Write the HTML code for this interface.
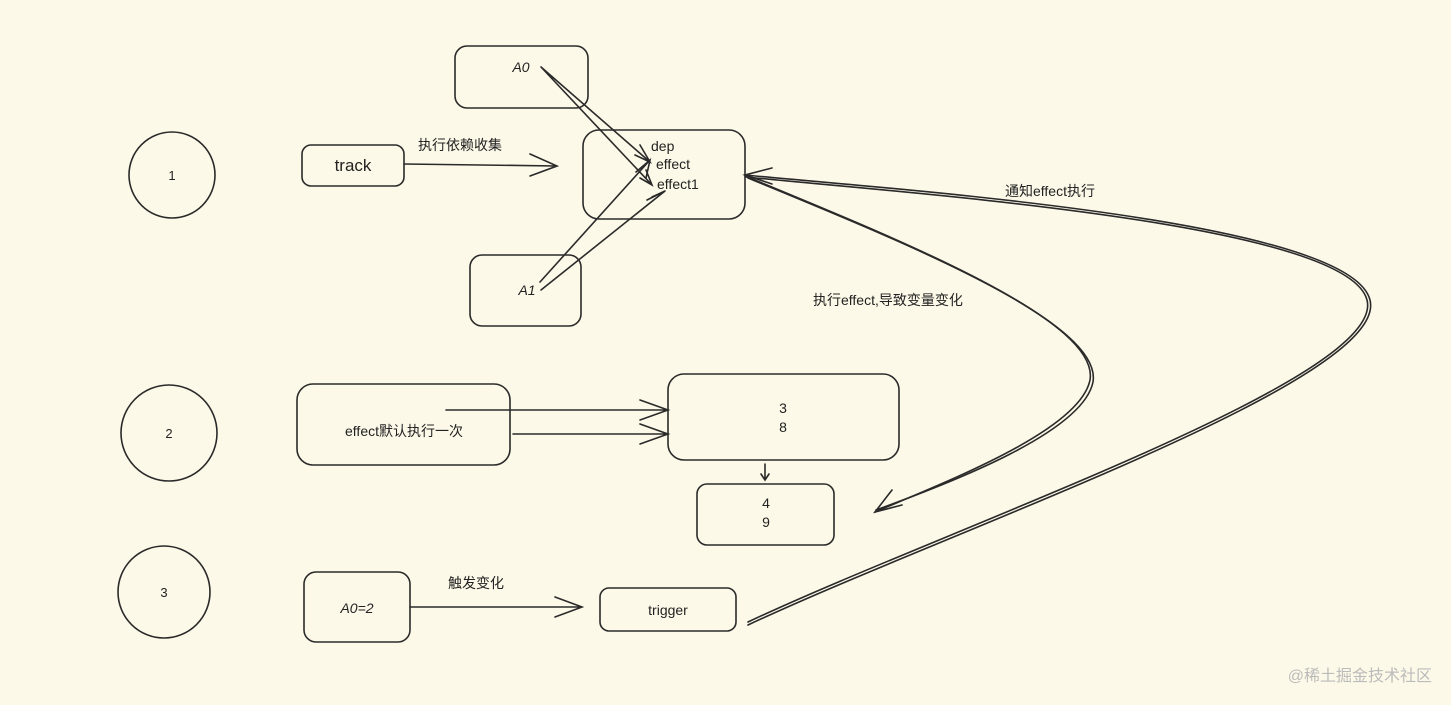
<!DOCTYPE html>
<html><head><meta charset="utf-8"><style>
html,body{margin:0;padding:0;background:#fdf9e8;}
svg{display:block}
text{font-family:"Liberation Sans","Noto Sans CJK SC",sans-serif;fill:#222;}
</style></head><body>
<svg width="1451" height="705" viewBox="0 0 1451 705" xmlns="http://www.w3.org/2000/svg">
<rect width="1451" height="705" fill="#fdf9e8"/>
<g fill="none" stroke="#2a2a2a" stroke-width="1.6" stroke-linecap="round">
<!-- circles -->
<circle cx="172" cy="175" r="43"/>
<circle cx="169" cy="433" r="48"/>
<circle cx="164" cy="592" r="46"/>
<!-- boxes -->
<rect x="455" y="46" width="133" height="62" rx="12"/>
<rect x="302" y="145" width="102" height="41" rx="9"/>
<rect x="583" y="130" width="162" height="89" rx="16"/>
<rect x="470" y="255" width="111" height="71" rx="12"/>
<rect x="297" y="384" width="213" height="81" rx="16"/>
<rect x="668" y="374" width="231" height="86" rx="16"/>
<rect x="697" y="484" width="137" height="61" rx="10"/>
<rect x="304" y="572" width="106" height="70" rx="12"/>
<rect x="600" y="588" width="136" height="43" rx="9"/>
<!-- track arrow -->
<path d="M404 164 L557 166 M530 154 L557 166 L530 176"/>
<!-- A0 arrows -->
<path d="M541 67 L650 162 M541 67 L652 185 M635 155 L650 162 L640 145 M640 178 L652 185 L646 170"/>
<!-- A1 arrows -->
<path d="M540 282 L650 160 M541 290 L665 191 M636 172 L650 160 L646 178 M647 200 L665 191 L652 197"/>
<!-- effect -> 3,8 -->
<path d="M446 410 L668 410 M640 400 L668 410 L640 420"/>
<path d="M513 434 L668 434 M640 424 L668 434 L640 444"/>
<!-- 3,8 -> 4,9 -->
<path d="M765 464 L765 480 M761 474 L765 480 L769 474"/>
<!-- A0=2 -> trigger -->
<path d="M410 607 L582 607 M555 597 L582 607 L555 617"/>
<!-- effect -> 4,9 curve -->
<path d="M745 176 C 900 240, 1100 320, 1090 380 C 1080 430, 950 480, 875 512"/>
<path d="M748 178 C 903 242, 1103 322, 1093 382 C 1083 432, 953 482, 876 510"/>
<path d="M892 490 L875 512 L902 505"/>
<!-- trigger -> effect curve -->
<path d="M748 625 C 950 530, 1390 380, 1370 300 C 1350 220, 900 190, 745 175"/>
<path d="M748 622 C 950 527, 1387 378, 1367 300 C 1347 222, 900 193, 746 177"/>
<path d="M772 168 L745 175 L772 184"/>
</g>
<g font-size="14">
<text x="172" y="180" text-anchor="middle" font-size="13">1</text>
<text x="169" y="438" text-anchor="middle" font-size="13">2</text>
<text x="164" y="597" text-anchor="middle" font-size="13">3</text>
<text x="521" y="72" text-anchor="middle" font-style="italic">A0</text>
<text x="353" y="171" text-anchor="middle" font-size="17">track</text>
<text x="418" y="150">执行依赖收集</text>
<text x="651" y="151">dep</text>
<text x="656" y="169">effect</text>
<text x="657" y="189">effect1</text>
<text x="527" y="295" text-anchor="middle" font-style="italic">A1</text>
<text x="404" y="436" text-anchor="middle">effect默认执行一次</text>
<text x="783" y="413" text-anchor="middle">3</text>
<text x="783" y="432" text-anchor="middle">8</text>
<text x="766" y="508" text-anchor="middle">4</text>
<text x="766" y="527" text-anchor="middle">9</text>
<text x="357" y="613" text-anchor="middle" font-style="italic">A0=2</text>
<text x="448" y="588">触发变化</text>
<text x="668" y="615" text-anchor="middle">trigger</text>
<text x="1005" y="196">通知effect执行</text>
<text x="813" y="305">执行effect,导致变量变化</text>
<text x="1432" y="681" text-anchor="end" font-size="16" style="fill:#bbb">@稀土掘金技术社区</text>
</g>
</svg>
</body></html>
